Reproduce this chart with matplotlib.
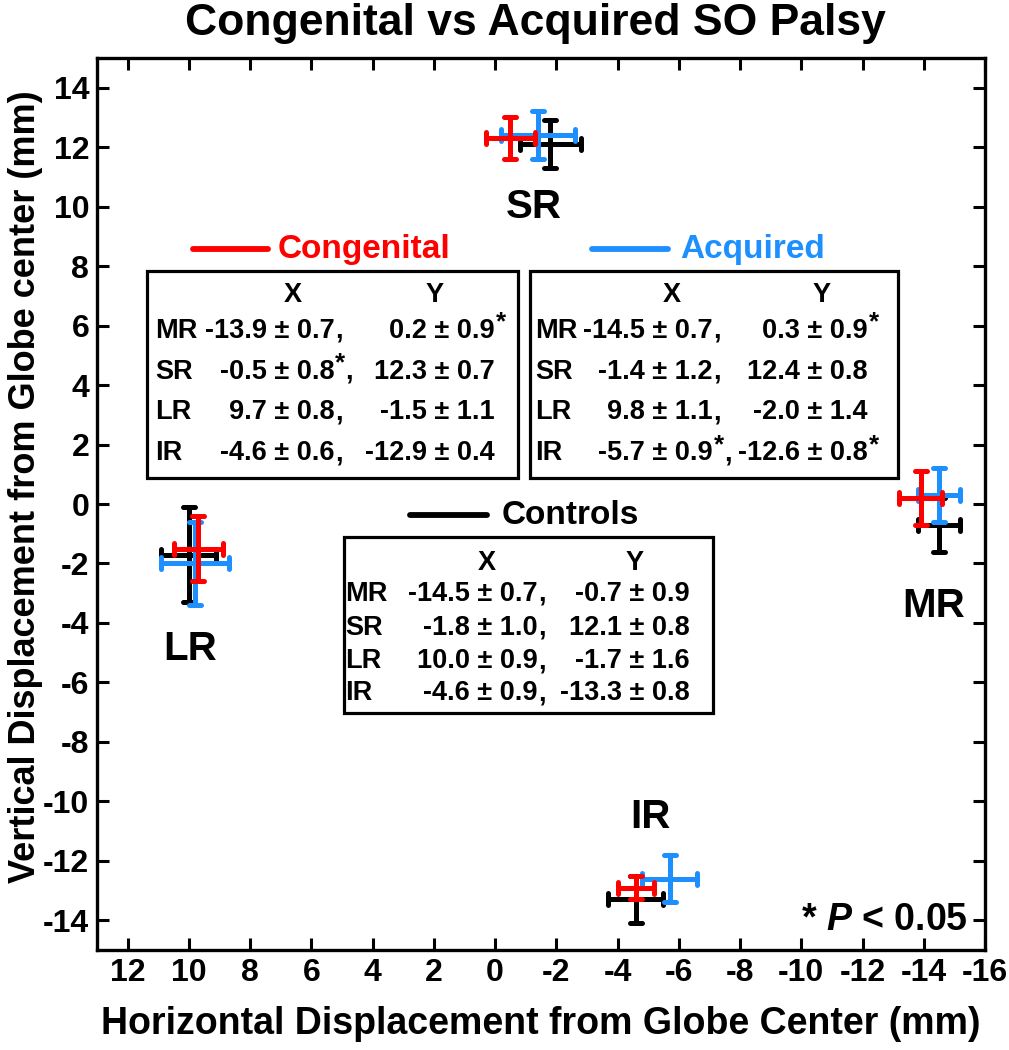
import matplotlib
matplotlib.use('Agg')
import matplotlib.pyplot as plt
from matplotlib.patches import Rectangle
from matplotlib.markers import MarkerStyle

# ---- data (mean, SD) per muscle ----
muscles = ['MR', 'SR', 'LR', 'IR']

cong_x = [-13.9, -0.5, 9.7, -4.6]
cong_xsd = [0.7, 0.8, 0.8, 0.6]
cong_y = [0.2, 12.3, -1.5, -12.9]
cong_ysd = [0.9, 0.7, 1.1, 0.4]
cong_xstar = [False, True, False, False]
cong_ystar = [True, False, False, False]

acq_x = [-14.5, -1.4, 9.8, -5.7]
acq_xsd = [0.7, 1.2, 1.1, 0.9]
acq_y = [0.3, 12.4, -2.0, -12.6]
acq_ysd = [0.9, 0.8, 1.4, 0.8]
acq_xstar = [False, False, False, True]
acq_ystar = [True, False, False, True]

ctrl_x = [-14.5, -1.8, 10.0, -4.6]
ctrl_xsd = [0.7, 1.0, 0.9, 0.9]
ctrl_y = [-0.7, 12.1, -1.7, -13.3]
ctrl_ysd = [0.9, 0.8, 1.6, 0.8]
ctrl_xstar = [False, False, False, False]
ctrl_ystar = [False, False, False, False]

RED = '#ff0000'
BLUE = '#1e8fff'
BLACK = '#000000'

plt.rcParams['font.family'] = ['Liberation Sans', 'DejaVu Sans']
plt.rcParams['font.weight'] = 'bold'
plt.rcParams['axes.labelweight'] = 'bold'
plt.rcParams['axes.titleweight'] = 'bold'
plt.rcParams['axes.unicode_minus'] = False
plt.rcParams['mathtext.fontset'] = 'custom'
plt.rcParams['mathtext.rm'] = 'Liberation Sans:bold'
plt.rcParams['mathtext.it'] = 'Liberation Sans:italic:bold'
plt.rcParams['mathtext.bf'] = 'Liberation Sans:bold'

fig = plt.figure(figsize=(10.09, 10.5), dpi=100)
ax = fig.add_axes([0.0961, 0.0952, 0.8801, 0.8496])

ax.set_xlim(13, -16)
ax.set_ylim(-15, 15)
ax.set_xticks(range(12, -17, -2))
ax.set_yticks(range(-14, 15, 2))
ax.tick_params(direction='in', top=True, right=True, length=8.5, width=2.2,
               labelsize=23, pad=5.5)
for s in ax.spines.values():
    s.set_linewidth(2.4)

# error bar crosses (controls under, congenital on top)
ekw = dict(fmt='none', elinewidth=3.6, capsize=4.3, capthick=3.6)
for xs, ys, xe, ye, col, z in [(ctrl_x, ctrl_y, ctrl_xsd, ctrl_ysd, BLACK, 3),
                               (acq_x, acq_y, acq_xsd, acq_ysd, BLUE, 4),
                               (cong_x, cong_y, cong_xsd, cong_ysd, RED, 5)]:
    eb = ax.errorbar(xs, ys, xerr=xe, yerr=ye, ecolor=col, zorder=z, **ekw)
    _, caps, bars = eb.lines
    for b in bars:
        b.set_capstyle('round')
    for c in caps:
        c.set_marker(MarkerStyle(c.get_marker(), capstyle='round'))

# muscle labels
lab_pos = {'SR': (-1.26, 10.0), 'LR': (9.95, -4.87), 'MR': (-14.31, -3.42), 'IR': (-5.06, -10.52)}
for m in muscles:
    ax.text(lab_pos[m][0], lab_pos[m][1], m, fontsize=29, ha='center', va='center')

fig.text(0.531, 1 - 23 / 1050, 'Congenital vs Acquired SO Palsy', fontsize=32,
         ha='center', va='center')
ax.set_xlabel('Horizontal Displacement from Globe Center (mm)', fontsize=27)
ax.set_ylabel('Vertical Displacement from Globe center (mm)', fontsize=26)
ax.xaxis.set_label_coords(0.5, -0.063)
ax.yaxis.set_label_coords(-0.061, 0.519)

tfs = 19.5


def star(x, y):
    ax.annotate('*', xy=(x, y), xytext=(0.5, 6), textcoords='offset points',
                ha='left', va='center', fontsize=tfs - 1)


def table(box, cols, rows_y, head_y, xs, xsd, xstar, ys, ysd, ystar):
    x0, x1, y0, y1 = box
    ax.add_patch(Rectangle((x1, y0), x0 - x1, y1 - y0, fill=False, lw=2.3,
                           edgecolor='k', zorder=6))
    lab_x, xend, yend, hx, hy = cols
    ax.text(hx, head_y, 'X', fontsize=tfs, ha='center', va='center')
    ax.text(hy, head_y, 'Y', fontsize=tfs, ha='center', va='center')
    for i, m in enumerate(muscles):
        ry = rows_y[i]
        ax.text(lab_x, ry, m, fontsize=tfs, ha='left', va='center')
        ax.text(xend, ry, f'{xs[i]:.1f} ± {xsd[i]:.1f}', fontsize=tfs, ha='right', va='center')
        if xstar[i]:
            star(xend, ry)
            ax.annotate(',', xy=(xend, ry), xytext=(8, 0), textcoords='offset points',
                        ha='left', va='center', fontsize=tfs)
        else:
            ax.annotate(',', xy=(xend, ry), xytext=(0.5, 0), textcoords='offset points',
                        ha='left', va='center', fontsize=tfs)
        ax.text(yend, ry, f'{ys[i]:.1f} ± {ysd[i]:.1f}', fontsize=tfs, ha='right', va='center')
        if ystar[i]:
            star(yend, ry)


def legend_line(xa, xb, xt, y, color, label):
    ax.plot([xa, xb], [y, y], color=color, lw=4.2, solid_capstyle='round', zorder=6)
    ax.text(xt, y, label, color=color, fontsize=24, ha='left', va='center')


rows_top = [5.82, 4.45, 3.08, 1.70]

# Congenital
legend_line(9.85, 7.41, 7.11, 8.57, RED, 'Congenital')
table((11.35, -0.75, 0.88, 7.85), (11.1, 5.25, 0.0, 6.62, 1.96),
      rows_top, 7.03,
      cong_x, cong_xsd, cong_xstar, cong_y, cong_ysd, cong_ystar)

# Acquired
legend_line(-3.16, -5.64, -6.04, 8.57, BLUE, 'Acquired')
table((-1.14, -13.15, 0.88, 7.85), (-1.31, -7.11, -12.17, -5.77, -10.67),
      rows_top, 7.03,
      acq_x, acq_xsd, acq_xstar, acq_y, acq_ysd, acq_ystar)

# Controls
legend_line(2.77, 0.26, -0.23, -0.37, BLACK, 'Controls')
table((4.93, -7.11, -7.03, -1.12), (4.89, -1.40, -6.36, 0.26, -4.57),
      [-3.01, -4.16, -5.28, -6.36], -2.0,
      ctrl_x, ctrl_xsd, ctrl_xstar, ctrl_y, ctrl_ysd, ctrl_ystar)

ax.text(-15.43, -14.0, r'* $\mathit{P}$ < 0.05', fontsize=27, ha='right', va='center')

fig.savefig('out.png', dpi=100, facecolor='white')
